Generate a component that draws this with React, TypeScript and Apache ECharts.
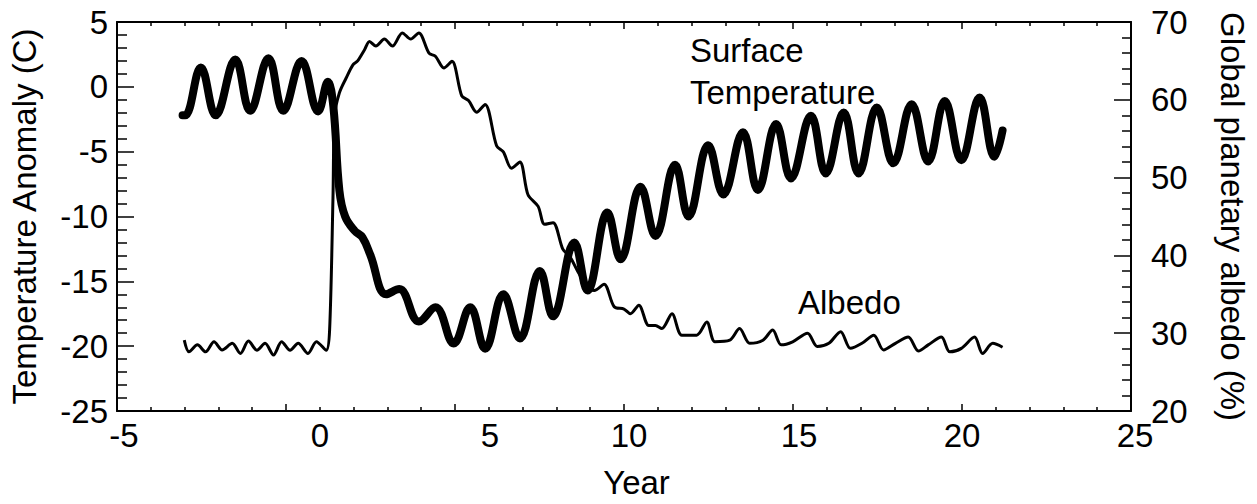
import React, { useEffect, useRef } from "react";
import * as echarts from "echarts";

// ---- Data ----
const tempYears = [
  -3.06, -2.98, -2.52, -2.08, -1.5, -1.06, -0.52, -0.08, 0.46, 0.95, 1.24, 1.4, 1.58, 1.75, 2.03, 2.26,
  2.5, 2.96, 3.35, 3.93, 4.42, 4.96, 5.45, 5.89, 6.43, 6.92, 7.51, 7.9, 8.53, 8.92, 9.51, 9.9, 10.49,
  10.93, 11.51, 11.91, 12.49, 12.94, 13.52, 13.96, 14.5, 14.94, 15.53, 15.97, 16.5, 16.94, 17.48, 17.97,
  18.51, 19.0, 19.49, 19.98, 20.52, 20.96, 21.2,
];
const tempValues = [
  -2.2, -2.2, 1.5, -2.2, 2.1, -1.85, 2.2, -1.85, 2.0, -1.9, 0.4, -1.5, -8.0, -10.0, -11.1, -11.6,
  -13.0, -16.0, -15.6, -18.1, -17.0, -19.8, -17.0, -20.2, -16.0, -19.4, -14.2, -17.7, -12.0, -15.7,
  -9.7, -13.3, -7.7, -11.5, -6.0, -10.0, -4.5, -8.3, -3.5, -7.95, -2.86, -7.06, -2.23, -6.68, -1.97,
  -6.68, -1.59, -5.9, -1.34, -5.75, -1.1, -5.66, -0.83, -5.4, -3.37,
];

const albedoYears = [
  -3.01, -2.87, -2.62, -2.38, -2.13, -1.89, -1.59, -1.35, -1.11, -0.86, -0.62, -0.37, -0.13, 0.12,
  0.36, 0.65, 0.9, 1.19, 1.29, 1.39, 1.44, 1.58, 1.78, 1.98, 2.12, 2.32, 2.47, 2.66, 2.91, 3.15, 3.44,
  3.69, 3.93, 4.23, 4.42, 4.67, 4.91, 5.2, 5.4, 5.64, 5.89, 6.23, 6.43, 6.67, 6.92, 7.16, 7.46, 7.65,
  7.9, 8.19, 8.39, 8.65, 8.92, 9.12, 9.41, 9.71, 10.0, 10.19, 10.44, 10.73, 10.93, 11.12, 11.42, 11.71,
  12.15, 12.45, 12.69, 13.13, 13.42, 13.72, 14.11, 14.4, 14.65, 14.99, 15.43, 15.72, 16.06, 16.41,
  16.7, 17.04, 17.39, 17.68, 18.03, 18.41, 18.71, 19.0, 19.39, 19.64, 19.98, 20.37, 20.61, 20.91, 21.2,
];
const albedoValues = [
  29.1, 27.6, 28.5, 27.6, 28.9, 27.85, 28.7, 27.4, 29.0, 27.8, 28.7, 27.2, 28.9, 27.8, 28.7, 27.4,
  28.9, 27.8, 30.4, 47.4, 58.0, 60.9, 62.8, 64.5, 65.0, 66.4, 67.5, 66.9, 67.8, 66.9, 68.6, 67.8, 68.6,
  66.0, 65.6, 64.1, 64.95, 60.5, 59.9, 58.4, 59.4, 54.1, 53.3, 51.2, 52.0, 47.8, 46.3, 44.0, 44.2, 40.8,
  39.9, 37.8, 35.9, 35.5, 36.3, 33.4, 33.1, 32.5, 33.6, 31.0, 31.0, 30.6, 32.5, 29.75, 29.75, 31.45,
  28.9, 29.1, 30.6, 28.7, 29.1, 30.4, 28.5, 28.9, 30.0, 28.3, 28.7, 30.2, 28.05, 28.7, 29.75, 27.85,
  28.7, 29.5, 27.7, 28.5, 29.5, 27.6, 28.05, 29.5, 27.4, 28.7, 28.2,
];

const xTickLabels = ["-5", "0", "5", "10", "15", "20", "25"];
const annotations = ["Surface", "Temperature", "Albedo"];

// ---- Styling ----
const FONT = "'Liberation Sans', Arial, Helvetica, sans-serif";
const FS = 33;
const xLabelShift: Record<string, number> = { "-5": 7, "0": 34, "5": 35, "10": 5, "15": 6, "20": 0, "25": 4 };

export default function App() {
  const ref = useRef<HTMLDivElement>(null);

  useEffect(() => {
    if (!ref.current) return;
    const chart = echarts.init(ref.current, null, { renderer: "svg" });

    const tempData = tempYears.map((x, i) => [x, tempValues[i]]);
    const albedoData = albedoYears.map((x, i) => [x, albedoValues[i]]);

    const rich: Record<string, any> = {};
    xTickLabels.forEach((l, i) => {
      const s = xLabelShift[l] || 0;
      rich["k" + i] = {
        fontSize: FS,
        fontFamily: FONT,
        color: "#000",
        padding: [0, 0, 0, 2 * s],
      };
    });

    const axisCommon = {
      axisLine: { show: true, onZero: false, lineStyle: { color: "#000", width: 2 } },
      splitLine: { show: false },
    };
    const tickStyle = { color: "#000", width: 1.5 };

    const option: any = {
      animation: false,
      backgroundColor: "#fff",
      textStyle: { fontFamily: FONT },
      grid: { left: 115, right: 119, top: 22, bottom: 88, containLabel: false },
      xAxis: [
        {
          type: "value",
          min: -5,
          max: 25,
          interval: 5,
          position: "bottom",
          ...axisCommon,
          axisTick: { show: true, inside: true, length: 7, lineStyle: tickStyle },
          minorTick: { show: true, splitNumber: 5, length: 4, lineStyle: tickStyle },
          axisLabel: {
            margin: 8,
            formatter: (v: number) => {
              const idx = xTickLabels.indexOf(String(v));
              return idx >= 0 ? `{k${idx}|${xTickLabels[idx]}}` : String(v);
            },
            rich,
            fontSize: FS,
            color: "#000",
            fontFamily: FONT,
          },
          name: "Year",
          nameLocation: "middle",
          nameGap: 55,
          nameTextStyle: { fontSize: FS, color: "#000", fontFamily: FONT, padding: [0, 0, 0, 25] },
        },
        {
          type: "value",
          min: -5,
          max: 25,
          interval: 5,
          position: "top",
          ...axisCommon,
          axisTick: { show: true, inside: true, length: 7, lineStyle: tickStyle },
          minorTick: { show: true, splitNumber: 5, length: 4, lineStyle: tickStyle },
          axisLabel: { show: false },
        },
      ],
      yAxis: [
        {
          type: "value",
          min: -25,
          max: 5,
          interval: 5,
          position: "left",
          ...axisCommon,
          axisTick: { show: true, inside: true, length: 17, lineStyle: tickStyle },
          minorTick: { show: true, splitNumber: 5, length: 10, lineStyle: tickStyle },
          axisLabel: { margin: 9, fontSize: FS, color: "#000", fontFamily: FONT },
          name: "Temperature Anomaly (C)",
          nameLocation: "middle",
          nameRotate: 90,
          nameGap: 76,
          nameTextStyle: { fontSize: FS, color: "#000", fontFamily: FONT },
        },
        {
          type: "value",
          min: 20,
          max: 70,
          interval: 10,
          position: "right",
          ...axisCommon,
          axisTick: { show: true, inside: true, length: 17, lineStyle: tickStyle },
          minorTick: { show: true, splitNumber: 5, length: 9, lineStyle: tickStyle },
          axisLabel: { margin: 20, fontSize: FS, color: "#000", fontFamily: FONT },
          name: "Global planetary albedo (%)",
          nameLocation: "middle",
          nameRotate: -90,
          nameGap: 85,
          nameTextStyle: { fontSize: FS, color: "#000", fontFamily: FONT },
        },
      ],
      series: [
        {
          name: "Albedo",
          type: "line",
          xAxisIndex: 0,
          yAxisIndex: 1,
          data: albedoData,
          smooth: 0.3,
          showSymbol: false,
          symbol: "none",
          lineStyle: { color: "#000", width: 3, join: "round" },
          z: 2,
        },
        {
          name: "Surface Temperature",
          type: "line",
          xAxisIndex: 0,
          yAxisIndex: 0,
          data: tempData,
          smooth: 0.4,
          showSymbol: false,
          symbol: "none",
          lineStyle: { color: "#000", width: 8, cap: "round", join: "round" },
          z: 3,
        },
      ],
      graphic: [
        {
          type: "text",
          x: 690,
          y: 50,
          style: { text: annotations[0], fontSize: FS, fontFamily: FONT, fill: "#000", verticalAlign: "middle", align: "left" },
        },
        {
          type: "text",
          x: 690,
          y: 92,
          style: { text: annotations[1], fontSize: FS, fontFamily: FONT, fill: "#000", verticalAlign: "middle", align: "left" },
        },
        {
          type: "text",
          x: 798,
          y: 302,
          style: { text: annotations[2], fontSize: FS, fontFamily: FONT, fill: "#000", verticalAlign: "middle", align: "left" },
        },
      ],
    };

    chart.setOption(option);
    return () => chart.dispose();
  }, []);

  return (
    <div
      ref={ref}
      style={{ position: "fixed", left: 0, top: 0, width: 1257, height: 504, background: "#fff", overflow: "hidden" }}
    />
  );
}
